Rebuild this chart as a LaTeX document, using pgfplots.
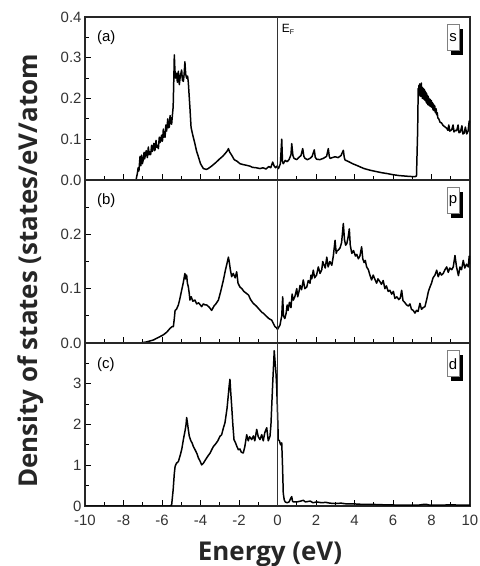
\documentclass[border=0pt]{standalone}
\usepackage{fontspec}
\setmainfont{Liberation Sans}
\newfontfamily\labfont{Open Sans}
\usepackage{pgfplots}
\pgfplotsset{compat=1.18}

\pgfplotsset{
  dos/.style={
    scale only axis, width=385bp, height=163bp,
    xmin=-10, xmax=10, enlargelimits=false,
    xtick={-10,-8,-6,-4,-2,0,2,4,6,8,10},
    minor xtick={-9,-7,-5,-3,-1,1,3,5,7,9},
    xtick pos=bottom, ytick pos=left, tick align=inside,
    major tick length=5.5bp, minor tick length=3.5bp,
    tick style={black, line width=0.8pt},
    axis line style={line width=1.1pt, black!85},
    tick label style={font=\fontsize{15}{17}\selectfont, text=black!80},
    xticklabel style={yshift=-6bp},
    /pgf/number format/assume math mode=true,
  },
  dosline/.style={black, line width=1.5pt, line join=round, mark=none},
  efline/.style={black!80, line width=0.9pt},
}
\newcommand{\orbbox}[1]{%
  \fill[black] ([xshift=-19bp,yshift=-12bp]rel axis cs:1,1) rectangle ([xshift=-7bp,yshift=-38bp]rel axis cs:1,1);
  \draw[black!50, fill=white, line width=0.6pt] ([xshift=-23bp,yshift=-7bp]rel axis cs:1,1) rectangle ([xshift=-11bp,yshift=-33bp]rel axis cs:1,1);
  \node[font=\fontsize{15}{17}\selectfont] at ([xshift=-17bp,yshift=-21bp]rel axis cs:1,1) {#1};
}

\begin{document}
\begin{tikzpicture}
\useasboundingbox (0,0) rectangle (480bp,566bp);

% (a) s states
\begin{axis}[dos, at={(85bp,386bp)}, anchor=south west,
  ymin=0, ymax=0.4, ytick={0,0.1,0.2,0.3,0.4}, minor ytick={0.05,0.15,0.25,0.35},
  xticklabels={},
  yticklabel style={/pgf/number format/.cd, fixed, fixed zerofill, precision=1}]
\addplot[dosline] coordinates {
(-10,0) (-7.35,0) (-7.28,0.016) (-7.24,0.03) (-7.2,0.022) (-7.14,0.058) (-7.1,0.035) (-7.06,0.061)
(-7.02,0.04) (-6.97,0.05) (-6.93,0.068) (-6.9,0.052) (-6.82,0.072) (-6.78,0.06) (-6.76,0.055)
(-6.71,0.081) (-6.67,0.062) (-6.65,0.07) (-6.59,0.062) (-6.54,0.085) (-6.5,0.07) (-6.42,0.09)
(-6.38,0.072) (-6.36,0.075) (-6.31,0.097) (-6.27,0.08) (-6.25,0.085) (-6.19,0.077) (-6.14,0.105)
(-6.1,0.092) (-6.02,0.11) (-5.99,0.095) (-5.97,0.098) (-5.93,0.125) (-5.9,0.105) (-5.88,0.115)
(-5.84,0.105) (-5.8,0.135) (-5.76,0.12) (-5.7,0.15) (-5.66,0.128) (-5.62,0.13) (-5.58,0.158)
(-5.54,0.14) (-5.5,0.137) (-5.42,0.18) (-5.38,0.26) (-5.36,0.307) (-5.33,0.27) (-5.29,0.25)
(-5.25,0.262) (-5.2,0.24) (-5.15,0.267) (-5.1,0.234) (-5.05,0.255) (-4.98,0.27) (-4.94,0.245)
(-4.89,0.242) (-4.85,0.26) (-4.81,0.29) (-4.77,0.26) (-4.72,0.25) (-4.67,0.255) (-4.63,0.238)
(-4.58,0.2) (-4.55,0.178) (-4.49,0.129) (-4.4,0.11) (-4.29,0.089) (-4.2,0.07) (-4.11,0.057)
(-4.0,0.04) (-3.85,0.028) (-3.7,0.026) (-3.6,0.028) (-3.4,0.035) (-3.2,0.043) (-3.0,0.052)
(-2.85,0.058) (-2.7,0.066) (-2.6,0.072) (-2.55,0.077) (-2.48,0.068) (-2.38,0.061) (-2.25,0.05)
(-2.1,0.046) (-1.95,0.04) (-1.8,0.038) (-1.6,0.036) (-1.43,0.034) (-1.3,0.031) (-1.1,0.03)
(-0.91,0.028) (-0.75,0.03) (-0.6,0.027) (-0.45,0.033) (-0.35,0.03) (-0.25,0.044) (-0.18,0.035)
(-0.1,0.03) (-0.03,0.034) (0.05,0.028) (0.15,0.04) (0.22,0.1) (0.26,0.045) (0.3,0.04)
(0.4,0.048) (0.5,0.045) (0.6,0.05) (0.7,0.062) (0.74,0.089) (0.8,0.06) (0.86,0.053) (1.0,0.05)
(1.1,0.055) (1.22,0.06) (1.31,0.077) (1.37,0.058) (1.43,0.053) (1.55,0.05) (1.69,0.053)
(1.8,0.058) (1.91,0.074) (1.96,0.056) (2.03,0.051) (2.2,0.05) (2.38,0.053) (2.55,0.058)
(2.64,0.077) (2.69,0.058) (2.73,0.053) (2.85,0.055) (2.99,0.057) (3.15,0.055) (3.3,0.06)
(3.42,0.073) (3.47,0.055) (3.51,0.049) (3.7,0.045) (3.9,0.04) (4.11,0.036) (4.3,0.032)
(4.5,0.028) (4.81,0.024) (5.1,0.021) (5.4,0.018) (5.67,0.016) (6.0,0.013) (6.3,0.011)
(6.54,0.01) (6.8,0.009) (7.14,0.008) (7.22,0.01) (7.28,0.12) (7.31,0.225) (7.33,0.205)
(7.35,0.232) (7.37,0.208) (7.39,0.236) (7.41,0.21) (7.43,0.23) (7.45,0.205) (7.47,0.238)
(7.49,0.212) (7.51,0.228) (7.53,0.2) (7.55,0.226) (7.57,0.202) (7.59,0.224) (7.61,0.198)
(7.63,0.222) (7.65,0.196) (7.67,0.218) (7.69,0.194) (7.71,0.215) (7.73,0.19) (7.75,0.212)
(7.77,0.188) (7.79,0.208) (7.81,0.185) (7.83,0.205) (7.85,0.184) (7.87,0.2) (7.9,0.182)
(7.93,0.198) (7.96,0.18) (7.99,0.195) (8.02,0.178) (8.05,0.19) (8.08,0.172) (8.11,0.186)
(8.14,0.17) (8.17,0.182) (8.2,0.165) (8.24,0.175) (8.27,0.16) (8.3,0.165) (8.33,0.152)
(8.38,0.15) (8.44,0.142) (8.52,0.14) (8.6,0.134) (8.68,0.131) (8.79,0.127) (8.85,0.122)
(8.9,0.135) (8.95,0.12) (9.05,0.123) (9.12,0.135) (9.17,0.118) (9.25,0.122) (9.31,0.121)
(9.38,0.135) (9.43,0.116) (9.5,0.118) (9.58,0.133) (9.63,0.113) (9.7,0.115) (9.76,0.13)
(9.83,0.113) (9.9,0.12) (9.96,0.145) (10,0.14)
};
\addplot[efline] coordinates {(0,0) (0,0.4)};
\node[anchor=west, font=\fontsize{15}{17}\selectfont] at (axis cs:-9.55,0.35) {(a)};
\node[anchor=north west, inner sep=0pt, font=\fontsize{12}{14}\selectfont] at (axis cs:0.22,0.382) {E\raisebox{-0.35ex}{\fontsize{7}{8}\selectfont F}};
\orbbox{s}
\end{axis}

% (b) p states
\begin{axis}[dos, at={(85bp,223bp)}, anchor=south west,
  ymin=0, ymax=0.3, ytick={0,0.1,0.2}, minor ytick={0.05,0.15,0.25},
  xticklabels={},
  yticklabel style={/pgf/number format/.cd, fixed, fixed zerofill, precision=1}]
\addplot[dosline] coordinates {
(-10,0) (-7.5,0) (-7.14,0.0) (-6.8,0.002) (-6.45,0.0055) (-6.2,0.01) (-5.93,0.015) (-5.75,0.02)
(-5.58,0.027) (-5.48,0.03) (-5.41,0.03) (-5.36,0.045) (-5.32,0.06) (-5.25,0.062) (-5.15,0.07)
(-5.08,0.08) (-4.98,0.097) (-4.9,0.11) (-4.85,0.12) (-4.81,0.128) (-4.77,0.118) (-4.72,0.125)
(-4.68,0.11) (-4.63,0.103) (-4.58,0.09) (-4.55,0.079) (-4.48,0.085) (-4.4,0.077) (-4.29,0.079)
(-4.2,0.072) (-4.1,0.074) (-3.94,0.067) (-3.85,0.072) (-3.76,0.07) (-3.68,0.07) (-3.55,0.066)
(-3.42,0.06) (-3.3,0.068) (-3.2,0.072) (-3.07,0.079) (-2.95,0.095) (-2.81,0.116) (-2.7,0.135)
(-2.6,0.15) (-2.55,0.158) (-2.5,0.148) (-2.45,0.135) (-2.38,0.122) (-2.3,0.128) (-2.2,0.12)
(-2.12,0.131) (-2.05,0.11) (-1.95,0.103) (-1.85,0.1) (-1.75,0.095) (-1.6,0.091) (-1.5,0.088)
(-1.4,0.08) (-1.26,0.073) (-1.1,0.068) (-0.95,0.062) (-0.8,0.056) (-0.74,0.055) (-0.6,0.05)
(-0.45,0.045) (-0.3,0.042) (-0.2,0.035) (-0.13,0.03) (-0.05,0.028) (0.0,0.025) (0.08,0.03)
(0.13,0.033) (0.22,0.05) (0.27,0.085) (0.31,0.05) (0.38,0.045) (0.45,0.055) (0.5,0.07)
(0.55,0.06) (0.62,0.075) (0.7,0.065) (0.76,0.09) (0.82,0.079) (0.9,0.085) (1.0,0.1)
(1.05,0.085) (1.12,0.095) (1.17,0.106) (1.25,0.098) (1.34,0.116) (1.42,0.1) (1.52,0.103)
(1.6,0.115) (1.69,0.11) (1.74,0.125) (1.78,0.118) (1.86,0.134) (1.93,0.12) (2.03,0.125)
(2.12,0.14) (2.21,0.128) (2.3,0.135) (2.35,0.15) (2.4,0.145) (2.48,0.138) (2.56,0.158)
(2.63,0.14) (2.72,0.15) (2.82,0.143) (2.9,0.16) (2.99,0.189) (3.05,0.165) (3.1,0.17)
(3.16,0.171) (3.25,0.175) (3.33,0.185) (3.42,0.22) (3.48,0.19) (3.54,0.18) (3.6,0.183)
(3.67,0.195) (3.73,0.21) (3.78,0.18) (3.86,0.165) (3.95,0.17) (4.05,0.16) (4.12,0.163)
(4.2,0.155) (4.28,0.16) (4.37,0.177) (4.43,0.155) (4.5,0.148) (4.56,0.152) (4.63,0.14)
(4.72,0.135) (4.8,0.125) (4.89,0.116) (4.97,0.125) (5.05,0.118) (5.15,0.11) (5.22,0.118)
(5.32,0.113) (5.4,0.108) (5.49,0.115) (5.58,0.1) (5.66,0.105) (5.75,0.095) (5.84,0.097)
(5.93,0.09) (6.02,0.095) (6.1,0.082) (6.2,0.085) (6.3,0.08) (6.38,0.083) (6.45,0.097)
(6.52,0.078) (6.6,0.075) (6.71,0.07) (6.8,0.068) (6.88,0.072) (6.96,0.062) (7.05,0.06)
(7.14,0.055) (7.22,0.06) (7.3,0.058) (7.4,0.073) (7.48,0.062) (7.56,0.065) (7.66,0.067)
(7.75,0.08) (7.84,0.095) (7.92,0.103) (8.0,0.11) (8.08,0.12) (8.18,0.125) (8.27,0.134)
(8.35,0.122) (8.44,0.13) (8.52,0.125) (8.61,0.128) (8.7,0.135) (8.79,0.14) (8.87,0.13)
(8.95,0.138) (9.05,0.135) (9.13,0.14) (9.22,0.161) (9.3,0.14) (9.4,0.124) (9.48,0.14)
(9.56,0.135) (9.65,0.152) (9.73,0.138) (9.82,0.145) (9.91,0.14) (9.96,0.16) (10,0.145)
};
\addplot[efline] coordinates {(0,0) (0,0.3)};
\node[anchor=west, font=\fontsize{15}{17}\selectfont] at (axis cs:-9.55,0.262) {(b)};
\orbbox{p}
\end{axis}

% (c) d states
\begin{axis}[dos, at={(85bp,60bp)}, anchor=south west,
  ymin=0, ymax=4, ytick={0,1,2,3}, minor ytick={0.5,1.5,2.5,3.5}]
\addplot[dosline] coordinates {
(-10,0) (-5.6,0) (-5.5,0.02) (-5.42,0.4) (-5.36,0.8) (-5.32,0.97) (-5.25,1.05) (-5.15,1.09)
(-5.05,1.25) (-4.97,1.4) (-4.89,1.63) (-4.8,1.85) (-4.75,2.0) (-4.72,2.17) (-4.68,2.05)
(-4.64,1.9) (-4.58,1.71) (-4.5,1.6) (-4.44,1.55) (-4.37,1.46) (-4.25,1.35) (-4.18,1.28)
(-4.11,1.18) (-4.02,1.1) (-3.94,1.01) (-3.85,1.05) (-3.76,1.12) (-3.68,1.18) (-3.58,1.25)
(-3.5,1.3) (-3.42,1.38) (-3.33,1.46) (-3.22,1.52) (-3.1,1.6) (-2.99,1.71) (-2.9,1.75)
(-2.82,1.9) (-2.73,2.04) (-2.62,2.4) (-2.55,2.75) (-2.5,3.0) (-2.47,3.11) (-2.43,2.8)
(-2.38,2.45) (-2.32,2.0) (-2.26,1.63) (-2.18,1.55) (-2.1,1.45) (-2.03,1.38) (-1.95,1.4)
(-1.88,1.32) (-1.78,1.30) (-1.7,1.45) (-1.65,1.6) (-1.6,1.75) (-1.52,1.6) (-1.45,1.7)
(-1.34,1.63) (-1.25,1.72) (-1.18,1.6) (-1.08,1.88) (-1.0,1.7) (-0.91,1.63) (-0.82,1.75)
(-0.74,1.6) (-0.66,1.8) (-0.56,1.92) (-0.48,1.6) (-0.39,1.71) (-0.34,2.0) (-0.3,2.45)
(-0.25,3.0) (-0.2,3.5) (-0.17,3.81) (-0.12,3.5) (-0.08,3.27) (-0.04,2.9) (-0.01,2.45)
(0.02,2.0) (0.04,1.63) (0.1,1.6) (0.16,1.5) (0.22,1.55) (0.26,1.0) (0.3,0.31) (0.35,0.15)
(0.4,0.1) (0.5,0.08) (0.6,0.1) (0.7,0.2) (0.74,0.23) (0.78,0.12) (0.82,0.1) (1.0,0.1)
(1.2,0.12) (1.34,0.14) (1.45,0.1) (1.7,0.12) (1.85,0.08) (2.03,0.1) (2.3,0.08) (2.5,0.09)
(2.72,0.07) (3.0,0.06) (3.3,0.07) (3.6,0.05) (4.03,0.05) (4.4,0.04) (4.9,0.04) (5.5,0.03)
(6.0,0.025) (6.71,0.02) (7.3,0.02) (7.6,0.04) (7.75,0.04) (7.9,0.02) (8.5,0.02) (9.0,0.03)
(9.5,0.02) (10,0.02)
};
\addplot[efline] coordinates {(0,0) (0,4)};
\node[anchor=west, font=\fontsize{15}{17}\selectfont] at (axis cs:-9.55,3.48) {(c)};
\orbbox{d}
\end{axis}

\node[rotate=90, text=black!85, font=\labfont\bfseries\fontsize{26}{28}\selectfont] at (31bp,295bp) {Density of states (states/eV/atom};
\node[anchor=base, text=black!85, font=\labfont\bfseries\fontsize{26}{28}\selectfont] at (270bp,6bp) {Energy (eV)};
\end{tikzpicture}
\end{document}
